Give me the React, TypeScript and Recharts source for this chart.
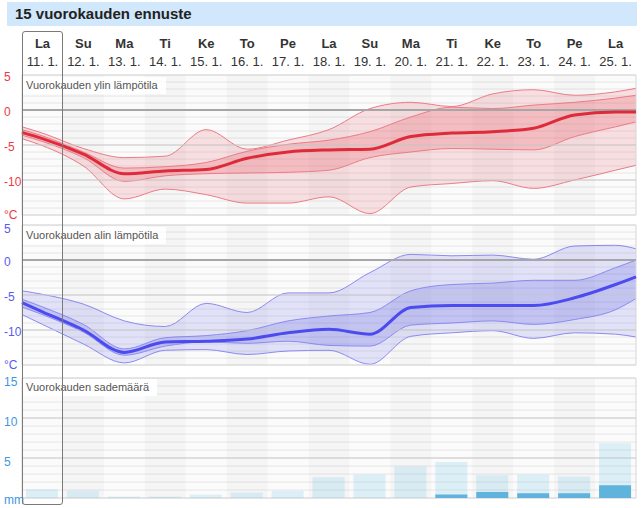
import React from 'react';
import {
  ComposedChart,
  Area,
  Line,
  Bar,
  XAxis,
  YAxis,
  CartesianGrid,
  ReferenceLine,
  ReferenceArea
} from 'recharts';

const dayNames = ['La', 'Su', 'Ma', 'Ti', 'Ke', 'To', 'Pe', 'La', 'Su', 'Ma', 'Ti', 'Ke', 'To', 'Pe', 'La'];
const dayDates = ['11. 1.', '12. 1.', '13. 1.', '14. 1.', '15. 1.', '16. 1.', '17. 1.', '18. 1.', '19. 1.', '20. 1.', '21. 1.', '22. 1.', '23. 1.', '24. 1.', '25. 1.'];

// curve positions: left edge, one per day, right edge
const curveX = [-0.5, 0, 1, 2, 3, 4, 5, 6, 7, 8, 9, 10, 11, 12, 13, 14, 14.5];

// vuorokauden ylin lämpötila
const maxOuterHi = [-2.4, -3.3, -5.5, -6.8, -6.6, -2.8, -5.6, -4.3, -2.8, 0.2, 1.1, 0.5, 2.3, 2.9, 2.1, 2.6, 3.1];
const maxInnerHi = [-2.8, -3.7, -6.0, -8.3, -8.1, -7.5, -5.9, -4.9, -4.3, -3.1, -1.0, 0.4, 0.2, 0.7, 1.1, 1.7, 2.1];
const maxMedian = [-3.2, -4.1, -6.3, -9.1, -8.7, -8.5, -6.9, -6.0, -5.7, -5.6, -3.8, -3.3, -3.1, -2.6, -0.7, -0.3, -0.3];
const maxInnerLo = [-3.6, -4.5, -6.8, -10.2, -9.4, -9.1, -9.0, -8.9, -8.6, -6.8, -6.0, -5.5, -5.6, -5.7, -3.8, -2.4, -1.7];
const maxOuterLo = [-4.1, -5.1, -8.0, -12.7, -11.3, -12.1, -13.3, -13.3, -12.4, -14.8, -11.0, -10.5, -10.1, -11.2, -10.0, -8.6, -7.9];

// vuorokauden alin lämpötila
const minOuterHi = [-4.4, -4.9, -6.3, -8.7, -9.5, -6.2, -7.5, -4.7, -4.7, -1.8, 0.8, 0.6, 0.7, 0.1, 2.0, 2.1, 1.6];
const minInnerHi = [-5.6, -6.7, -9.2, -12.7, -11.1, -10.8, -10.1, -8.7, -8.0, -7.5, -4.4, -3.5, -3.3, -2.9, -2.9, -1.1, 0];
const minMedian = [-6.1, -7.4, -10.0, -13.2, -11.7, -11.6, -11.3, -10.4, -9.9, -10.6, -6.8, -6.5, -6.5, -6.5, -5.4, -3.5, -2.4];
const minInnerLo = [-6.7, -7.8, -10.3, -13.6, -12.3, -11.7, -11.9, -11.6, -12.2, -12.3, -9.3, -9.0, -8.7, -9.2, -8.5, -7.1, -5.5];
const minOuterLo = [-7.8, -9.2, -12.0, -14.7, -12.9, -12.8, -13.5, -13.0, -12.9, -14.9, -10.9, -10.4, -10.1, -11.2, -10.4, -10.6, -11.0];

// vuorokauden sademäärä (mm)
const rainHigh = [1.1, 0.9, 0.2, 0.2, 0.45, 0.7, 0.9, 2.6, 2.95, 3.95, 4.5, 2.85, 2.95, 2.7, 6.85];
const rainLow = [0, 0, 0, 0, 0, 0, 0, 0, 0, 0, 0.45, 0.75, 0.6, 0.6, 1.6];

const tempTicks = [-15, -14, -13, -12, -11, -10, -9, -8, -7, -6, -5, -4, -3, -2, -1, 0, 1, 2, 3, 4, 5];
const rainTicks = [0, 1, 2, 3, 4, 5, 6, 7, 8, 9, 10, 11, 12, 13, 14, 15];
const dayIdx = dayNames.map((_, i) => i);

const maxData = curveX.map((x, i) => ({
  x,
  oHi: maxOuterHi[i],
  iHi: maxInnerHi[i],
  med: maxMedian[i],
  iLo: maxInnerLo[i],
  oLo: maxOuterLo[i]
}));

const minData = curveX.map((x, i) => ({
  x,
  oHi: minOuterHi[i],
  iHi: minInnerHi[i],
  med: minMedian[i],
  iLo: minInnerLo[i],
  oLo: minOuterLo[i]
}));

const rainData = dayIdx.map((x, i) => ({ x, hi: rainHigh[i], lo: rainLow[i] }));

const FONT = '"Liberation Sans", Arial, sans-serif';
const W = 642;

function DayTick({ x, payload }: any) {
  const i = payload.value;
  return (
    <g>
      <text x={x} y={18} textAnchor="middle" fontSize={13} fontWeight="bold" fill="#333" fontFamily={FONT}>
        {dayNames[i]}
      </text>
      <text x={x} y={36} textAnchor="middle" fontSize={13} fill="#333" fontFamily={FONT}>
        {dayDates[i]}
      </text>
    </g>
  );
}

function makeYTick(color: string, unitAt: number, topAt: number, unit: string, dy: number) {
  return ({ y, payload }: any) => {
    const v = payload.value;
    if (v % 5 !== 0) return <g />;
    const shift = v === unitAt ? dy - 2 : v === topAt ? dy + 2 : dy;
    return (
      <text x={4} y={y} dy={shift} fontSize={12} fill={color} fontFamily={FONT}>
        {v === unitAt ? unit : v}
      </text>
    );
  };
}

// every other day gets a slightly darker column
function bands() {
  return dayIdx
    .filter((i) => i % 2 === 1)
    .map((i) => (
      <ReferenceArea key={i} x1={i - 0.5} x2={i + 0.5} fill="#000" fillOpacity={0.022} stroke="none" />
    ));
}

function TempPanel({ data, color, edge, band, labelColor, withDays }: any) {
  return (
    <ComposedChart
      width={W}
      height={withDays ? 195 : 160}
      data={data}
      margin={{ top: withDays ? 0 : 10, right: 6, bottom: 10, left: 0 }}
    >
      <CartesianGrid vertical={false} stroke="#e6e6e6" fill="#fbfbfb" />
      <XAxis
        dataKey="x"
        type="number"
        domain={[-0.5, 14.5]}
        ticks={dayIdx}
        interval={0}
        orientation="top"
        height={withDays ? 45 : 0}
        hide={!withDays}
        axisLine={false}
        tickLine={false}
        tick={DayTick}
      />
      <YAxis
        type="number"
        domain={[-15, 5]}
        ticks={tempTicks}
        interval={0}
        width={22}
        axisLine={false}
        tickLine={false}
        tick={makeYTick(labelColor, -15, withDays ? 99 : 5, '°C', 6)}
      />
      {bands()}
      <Area
        type="monotone"
        dataKey={(d: any) => [d.oLo, d.oHi]}
        fill={band}
        fillOpacity={0.15}
        stroke={edge}
        strokeWidth={1}
        isAnimationActive={false}
      />
      <Area
        type="monotone"
        dataKey={(d: any) => [d.iLo, d.iHi]}
        fill={band}
        fillOpacity={0.2}
        stroke={edge}
        strokeWidth={1}
        isAnimationActive={false}
      />
      <ReferenceLine y={-5} stroke="#cbcbcb" />
      <ReferenceLine y={-10} stroke="#cbcbcb" />
      <ReferenceLine y={0} stroke="#a6a6a6" strokeWidth={2} />
      <Line type="monotone" dataKey="med" stroke={color} strokeWidth={3} dot={false} isAnimationActive={false} />
      <ReferenceArea x1={-0.5} x2={14.5} y1={-15} y2={5} fill="none" stroke="#d6d6d6" />
    </ComposedChart>
  );
}

function RainPanel() {
  return (
    <ComposedChart width={W} height={140} data={rainData} margin={{ top: 10, right: 6, bottom: 10, left: 0 }}>
      <CartesianGrid vertical={false} stroke="#e6e6e6" fill="#fbfbfb" />
      <XAxis xAxisId={0} dataKey="x" type="number" domain={[-0.5, 14.5]} hide />
      <XAxis xAxisId={1} dataKey="x" type="number" domain={[-0.5, 14.5]} hide />
      <YAxis
        type="number"
        domain={[0, 15]}
        ticks={rainTicks}
        interval={0}
        width={22}
        axisLine={false}
        tickLine={false}
        tick={makeYTick('#3d97dc', 0, 99, 'mm', 8)}
      />
      {bands()}
      <ReferenceLine y={5} stroke="#cbcbcb" />
      <ReferenceLine y={10} stroke="#cbcbcb" />
      <Bar xAxisId={0} dataKey="hi" barSize={32} fill="#64bde8" fillOpacity={0.2} isAnimationActive={false} />
      <Bar xAxisId={1} dataKey="lo" barSize={32} fill="#5fb3dc" isAnimationActive={false} />
      <ReferenceArea x1={-0.5} x2={14.5} y1={0} y2={15} fill="none" stroke="#d6d6d6" />
    </ComposedChart>
  );
}

const panelLabel: React.CSSProperties = {
  position: 'absolute',
  left: 23,
  fontSize: 11,
  color: '#555',
  fontFamily: FONT,
  padding: '2px 8px 2px 3px',
  lineHeight: '13px',
  whiteSpace: 'nowrap',
  background: 'rgba(255,255,255,0.85)'
};

export default function App() {
  return (
    <div style={{ position: 'relative', width: W, height: 508, overflow: 'hidden', background: '#fff', fontFamily: FONT }}>
      <style>{'body{margin:0}'}</style>
      <div
        style={{
          position: 'absolute',
          left: 7,
          top: 2,
          width: 630,
          height: 24,
          background: '#d1e7fb',
          fontSize: 15,
          fontWeight: 'bold',
          color: '#222',
          lineHeight: '24px',
          paddingLeft: 8,
          boxSizing: 'border-box'
        }}
      >
        15 vuorokauden ennuste
      </div>

      <div style={{ position: 'absolute', left: 0, top: 30 }}>
        <TempPanel data={maxData} color="#de2b3a" edge="#ec7c87" band="#e63a4c" labelColor="#ec3b46" withDays />
      </div>
      <div style={{ position: 'absolute', left: 0, top: 215 }}>
        <TempPanel data={minData} color="#4b4bef" edge="#8a8af2" band="#5050e6" labelColor="#5a5af0" />
      </div>
      <div style={{ position: 'absolute', left: 0, top: 368 }}>
        <RainPanel />
      </div>

      <div style={{ ...panelLabel, top: 77 }}>Vuorokauden ylin lämpötila</div>
      <div style={{ ...panelLabel, top: 227 }}>Vuorokauden alin lämpötila</div>
      <div style={{ ...panelLabel, top: 379, background: '#fff' }}>Vuorokauden sademäärä</div>

      <div
        style={{
          position: 'absolute',
          left: 22,
          top: 31,
          width: 41,
          height: 474,
          border: '1px solid #7a7a7a',
          borderRadius: 3,
          boxSizing: 'border-box',
          pointerEvents: 'none'
        }}
      />
    </div>
  );
}
